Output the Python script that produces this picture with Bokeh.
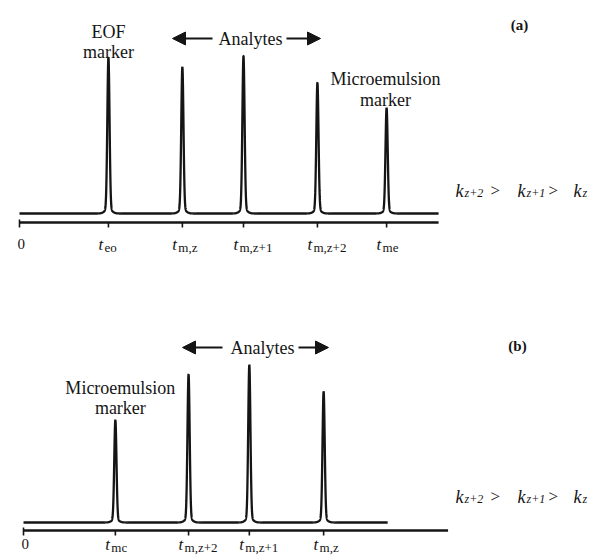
import numpy as np
from bokeh.plotting import figure
from bokeh.layouts import column
from bokeh.models import Range1d, Arrow, NormalHead
from bokeh.core.properties import value
from bokeh.embed import file_html
from bokeh.resources import INLINE

# ---- (a) EOF marker first, microemulsion marker last -------------------
a_labels = ["eo", "m,z", "m,z+1", "m,z+2", "me"]
a_times = [2.43, 4.45, 6.12, 8.14, 10.03]      # migration time (arb. units)
a_heights = [0.99, 0.93, 1.00, 0.83, 0.67]     # relative detector response
a_trace_end = 11.45
a_axis_end = 11.45

# ---- (b) reversed order: microemulsion marker first ---------------------
b_labels = ["mc", "m,z+2", "m,z+1", "m,z"]
b_times = [2.51, 4.51, 6.17, 8.20]
b_heights = [0.65, 0.94, 1.00, 0.83]
b_trace_end = 9.95
b_axis_end = 11.6

# retention-factor ordering written beside each trace
k_subs = ["z+2", "z+1", "z"]

W = 590
PX_T = 36.6      # pixels per time unit
PX_H = 153.0     # pixels per unit of signal
SIGMA = 1.1 / PX_T
INK = "#151515"
SERIF = "Liberation Serif"


def make_panel(height, x0_px, base_px):
    p = figure(width=W, height=height, output_backend="svg", toolbar_location=None,
               x_range=Range1d(-x0_px / PX_T, (W - x0_px) / PX_T),
               y_range=Range1d(-(height - base_px) / PX_H, base_px / PX_H),
               x_axis_type=None, y_axis_type=None,
               min_border=0, min_border_left=0, min_border_right=0,
               min_border_top=0, min_border_bottom=0)
    p.grid.visible = False
    p.outline_line_color = None
    p.background_fill_color = "white"
    p.border_fill_color = "white"
    X = lambda px: (px - x0_px) / PX_T
    Y = lambda py: (base_px - py) / PX_H
    return p, X, Y


def txt(p, x, y, s, size, style="normal", align="center", baseline="alphabetic"):
    p.text(x=x, y=y, text=s, text_font=value(SERIF), text_font_size=size,
           text_font_style=style, text_align=align, text_baseline=baseline,
           text_color=INK)


def trace(p, times, heights, end):
    t = np.linspace(0, end, 8000)
    sig = np.zeros_like(t)
    for t0, h in zip(times, heights):
        sig += h * np.exp(-0.5 * ((t - t0) / SIGMA) ** 2)
        sig += 0.03 * h * np.exp(-0.5 * ((t - t0) / (3 * SIGMA)) ** 2)
    p.line(t, sig, line_color=INK, line_width=2.3)


def time_axis(p, X, Y, times, labels, end, axis_py, label_py):
    p.segment(x0=[0], y0=[Y(axis_py)], x1=[end], y1=[Y(axis_py)],
              line_color=INK, line_width=2.3)
    p.segment(x0=[0], y0=[Y(axis_py - 3)], x1=[0], y1=[Y(axis_py + 5)],
              line_color=INK, line_width=1.6)
    p.segment(x0=times, y0=[Y(axis_py)] * len(times), x1=times,
              y1=[Y(axis_py + 5)] * len(times), line_color=INK, line_width=1.6)
    txt(p, [0.05], [Y(label_py - 1)], ["0"], "15px")
    txt(p, [t - 10 / PX_T for t in times], [Y(label_py)] * len(times),
        ["t"] * len(times), "17px", style="italic", align="left")
    txt(p, [t - 4 / PX_T for t in times], [Y(label_py + 3)] * len(times),
        labels, "13px", align="left")


def analytes(p, X, Y, left_tip, shaft_l, shaft_r, right_tip, py, cx):
    txt(p, [X(cx)], [Y(py)], ["Analytes"], "18px", baseline="middle")
    for xs, xe in ((shaft_l, left_tip), (shaft_r, right_tip)):
        p.add_layout(Arrow(end=NormalHead(size=13, fill_color=INK, line_color=INK),
                           x_start=X(xs), y_start=Y(py), x_end=X(xe), y_end=Y(py),
                           line_color=INK, line_width=1.8))


def k_ordering(p, X, Y, py):
    for kx, sub, gx in zip([455, 517, 573], k_subs, [490, 548, None]):
        txt(p, [X(kx)], [Y(py)], ["k"], "18px", style="italic", align="left")
        txt(p, [X(kx + 9)], [Y(py + 2)], [sub], "12px", style="italic", align="left")
        if gx is not None:
            txt(p, [X(gx)], [Y(py)], [">"], "17px", align="left")


# ---------------- panel (a) ----------------
pa, Xa, Ya = make_panel(280, 19, 213)
trace(pa, a_times, a_heights, a_trace_end)
time_axis(pa, Xa, Ya, a_times, a_labels, a_axis_end, 222, 244)
txt(pa, [a_times[0]], [Ya(31)], ["EOF"], "18px")
txt(pa, [a_times[0]], [Ya(51)], ["marker"], "18px")
txt(pa, [a_times[-1] - 1 / PX_T], [Ya(78)], ["Microemulsion"], "18px")
txt(pa, [a_times[-1] - 1 / PX_T], [Ya(99)], ["marker"], "18px")
analytes(pa, Xa, Ya, 172, 212, 286, 320, 38, 250)
txt(pa, [Xa(519)], [Ya(24)], ["(a)"], "15px", style="bold", baseline="middle")
k_ordering(pa, Xa, Ya, 190)

# ---------------- panel (b) ----------------
pb, Xb, Yb = make_panel(277, 23, 242)
trace(pb, b_times, b_heights, b_trace_end)
time_axis(pb, Xb, Yb, b_times, b_labels, b_axis_end, 250, 264)
txt(pb, [b_times[0] + 5 / PX_T], [Yb(107)], ["Microemulsion"], "18px")
txt(pb, [b_times[0] + 5 / PX_T], [Yb(127)], ["marker"], "18px")
analytes(pb, Xb, Yb, 182, 222, 298, 328, 67, 262)
txt(pb, [Xb(517)], [Yb(65)], ["(b)"], "15px", style="bold", baseline="middle")
k_ordering(pb, Xb, Yb, 216)

layout = column(pa, pb, spacing=0)
open("out.html", "w").write(file_html(layout, INLINE))
